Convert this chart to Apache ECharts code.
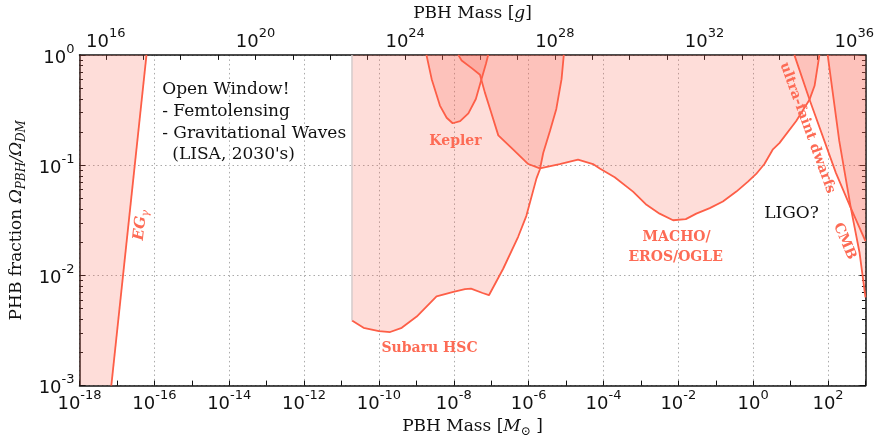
<!DOCTYPE html>
<html>
<head>
<meta charset="utf-8">
<script src="https://cdn.jsdelivr.net/npm/echarts@6/dist/echarts.min.js"></script>
<style>
  html, body { margin: 0; padding: 0; background: #fff; }
  #chart { width: 877px; height: 443px; }
</style>
</head>
<body>
<div id="chart"></div>
<script>
// every number below is a log10: x = log10(M / Msun), y = log10(f)
var egLogM = [-17.15, -16.21];
var egLogF = [-3, 0];

var subaruLogM = [-10.72, -10.41, -10.0, -9.70, -9.39, -8.99, -8.46, -8.01, -7.70, -7.54, -7.23, -7.06,
                  -6.68, -6.28, -6.06, -5.79, -5.70, -5.61, -5.43, -5.26, -5.12, -5.06];
var subaruLogF = [-2.41, -2.476, -2.505, -2.514, -2.476, -2.374, -2.19, -2.15, -2.124, -2.12, -2.16, -2.18,
                  -1.94, -1.65, -1.46, -1.12, -1.04, -0.89, -0.69, -0.49, -0.22, 0];

var keplerLogM = [-8.73, -8.59, -8.37, -8.19, -8.03, -7.83, -7.61, -7.41, -7.26, -7.14, -7.08];
var keplerLogF = [0, -0.22, -0.46, -0.57, -0.62, -0.60, -0.53, -0.40, -0.22, -0.08, 0];

var machoLogM = [-7.88, -7.79, -7.52, -7.30, -7.17, -7.03, -6.81, -6.41, -6.01, -5.70, -5.17, -4.68, -4.28,
                 -4.10, -3.70, -3.21, -2.85, -2.50, -2.14, -1.80, -1.52, -1.16, -0.81, -0.45, -0.14, 0.08,
                 0.30, 0.52, 0.70, 1.15, 1.50, 1.64, 1.77];
var machoLogF = [0, -0.05, -0.12, -0.18, -0.34, -0.49, -0.73, -0.86, -0.99, -1.03, -0.99, -0.95, -0.99,
                 -1.03, -1.11, -1.24, -1.36, -1.44, -1.50, -1.49, -1.44, -1.39, -1.33, -1.24, -1.15, -1.08,
                 -0.99, -0.86, -0.80, -0.60, -0.41, -0.28, 0];

var ufdLogM = [1.10, 1.50, 2.21, 2.61, 3.0];
var ufdLogF = [0, -0.40, -1.07, -1.39, -1.69];

var cmbLogM = [1.99, 2.30, 2.61, 2.84, 3.0];
var cmbLogF = [0, -0.78, -1.39, -1.79, -2.2];

var gramTicks = [16, 17, 18, 19, 20, 21, 22, 23, 24, 25, 26, 27, 28, 29, 30, 31, 32, 33, 34, 35, 36];
var gramLabels = [16, 20, 24, 28, 32, 36];
var LOG_MSUN_G = 33.2986;

var LINE = '#fd5e47';
var FILL = 'rgba(250,100,80,0.22)';
var TXT = '#fd6b55';
var SERIF = 'DejaVu Serif';
var SANS = 'DejaVu Sans';

function pairs(xs, ys) {
    return xs.map(function(x, i) { return [x, ys[i]]; });
}

var minorY = [];
[-3, -2, -1].forEach(function(d) {
    for (var k = 2; k < 10; k++) minorY.push(d + Math.log10(k));
});

var powRich = {
    b: {fontFamily: SANS, fontSize: 18, color: '#111', lineHeight: 24, verticalAlign: 'bottom'},
    s: {fontFamily: SANS, fontSize: 13, color: '#111', lineHeight: 13, verticalAlign: 'top'}
};
function powLabel(v) {
    return '{b|10}{s|' + Math.round(v) + '}';
}

var nameRich = {
    n: {fontFamily: SERIF, fontSize: 17, color: '#111', lineHeight: 22},
    i: {fontFamily: SERIF, fontSize: 17, fontStyle: 'italic', color: '#111', lineHeight: 22},
    s: {fontFamily: SERIF, fontSize: 12, fontStyle: 'italic', color: '#111', lineHeight: 12, verticalAlign: 'bottom'}
};

var blackLine = {onZero: false, lineStyle: {color: '#111', width: 1.5}};
var noLine = {show: false, onZero: false};
var dotted = {show: true, lineStyle: {color: '#aaa', type: [1.5, 3], width: 1}};

function area(xs, ys) {
    return {
        type: 'line', data: pairs(xs, ys), symbol: 'none', silent: true,
        lineStyle: {color: LINE, width: 1.8},
        areaStyle: {color: FILL, origin: 'end', opacity: 1}
    };
}

var myChart = echarts.init(document.getElementById('chart'));

var option = {
    animation: false,
    backgroundColor: '#fff',
    grid: {left: 79, right: 11, top: 51, bottom: 48},
    xAxis: [{
        // M_sun decades, ticks every decade, labels every other one
        type: 'value', position: 'bottom', min: -18, max: 3, interval: 1,
        axisLine: blackLine,
        axisTick: {inside: true, length: 5, lineStyle: {color: '#111'}},
        axisLabel: {margin: 4, formatter: function(v) { return Math.abs(Math.round(v) % 2) === 1 ? '' : powLabel(v); }, rich: powRich},
        splitLine: {show: false},
        name: '{n|PBH Mass [}{i|M}{s|⊙}{n| ]}', nameLocation: 'middle', nameGap: 24,
        nameTextStyle: {rich: nameRich}
    }, {
        // grams
        type: 'value', position: 'top', min: -18 + LOG_MSUN_G, max: 3 + LOG_MSUN_G,
        axisLine: blackLine,
        axisTick: {inside: true, length: 5, customValues: gramTicks, lineStyle: {color: '#111'}},
        axisLabel: {margin: 4, customValues: gramLabels, formatter: powLabel, rich: powRich},
        splitLine: {show: false},
        name: '{n|PBH Mass [}{i|g}{n|]}', nameLocation: 'middle', nameGap: 27,
        nameTextStyle: {rich: nameRich}
    }, {
        // grid lines every two decades
        type: 'value', position: 'bottom', min: -18, max: 3, interval: 2,
        axisLine: noLine, axisTick: {show: false}, axisLabel: {show: false},
        splitLine: dotted
    }],
    yAxis: [{
        type: 'value', position: 'left', min: -3, max: 0, interval: 1,
        axisLine: {show: true, onZero: false, lineStyle: {color: '#111', width: 1.5}},
        axisTick: {show: true, inside: true, length: 6, lineStyle: {color: '#111'}},
        axisLabel: {margin: 5, formatter: powLabel, rich: powRich},
        splitLine: dotted,
        name: '{n|PHB fraction }{i|Ω}{s|PBH}{i|/Ω}{s|DM}', nameLocation: 'middle', nameGap: 52,
        nameTextStyle: {rich: nameRich}
    }, {
        type: 'value', position: 'left', min: -3, max: 0,
        axisLine: noLine,
        axisTick: {show: true, inside: true, length: 3.5, customValues: minorY, lineStyle: {color: '#111'}},
        axisLabel: {show: false}, splitLine: {show: false}
    }, {
        type: 'value', position: 'right', min: -3, max: 0, interval: 1,
        axisLine: {show: true, onZero: false, lineStyle: {color: '#111', width: 1.5}},
        axisTick: {show: true, inside: true, length: 6, lineStyle: {color: '#111'}},
        axisLabel: {show: false}, splitLine: {show: false}
    }, {
        type: 'value', position: 'right', min: -3, max: 0,
        axisLine: noLine,
        axisTick: {show: true, inside: true, length: 3.5, customValues: minorY, lineStyle: {color: '#111'}},
        axisLabel: {show: false}, splitLine: {show: false}
    }],
    series: [
        // EG gamma: fill everything left of the edge, then draw the edge itself
        {
            type: 'line', symbol: 'none', silent: true,
            data: [[-18, egLogF[0]]].concat(pairs(egLogM, egLogF)),
            lineStyle: {width: 0, opacity: 0},
            areaStyle: {color: FILL, origin: 'end', opacity: 1}
        },
        {type: 'line', symbol: 'none', silent: true, data: pairs(egLogM, egLogF), lineStyle: {color: LINE, width: 1.8}},
        area(subaruLogM, subaruLogF),
        {
            type: 'line', symbol: 'none', silent: true,
            data: [[subaruLogM[0], subaruLogF[0]], [subaruLogM[0], 0]],
            lineStyle: {color: '#d4cccc', width: 1.5}
        },
        area(keplerLogM, keplerLogF),
        area(machoLogM, machoLogF),
        area(ufdLogM, ufdLogF),
        area(cmbLogM, cmbLogF)
    ]
};

myChart.setOption(option);

// annotations, placed in data coordinates
var notes = [
    {x: -15.79, y: -0.314, text: 'Open Window!', align: 'left', color: '#111', font: '17px ' + SERIF},
    {x: -15.79, y: -0.514, text: '- Femtolensing', align: 'left', color: '#111', font: '17px ' + SERIF},
    {x: -15.79, y: -0.715, text: '- Gravitational Waves', align: 'left', color: '#111', font: '17px ' + SERIF},
    {x: -15.52, y: -0.907, text: "(LISA, 2030's)", align: 'left', color: '#111', font: '17px ' + SERIF},
    {x: -7.955, y: -0.785, text: 'Kepler', color: TXT, font: 'bold 14px ' + SERIF},
    {x: -8.648, y: -2.659, text: 'Subaru HSC', color: TXT, font: 'bold 14px ' + SERIF},
    {x: -2.045, y: -1.657, text: 'MACHO/', color: TXT, font: 'bold 14px ' + SERIF},
    {x: -2.072, y: -1.84, text: 'EROS/OGLE', color: TXT, font: 'bold 14px ' + SERIF},
    {x: 1.024, y: -1.439, text: 'LIGO?', color: '#111', font: '17px ' + SERIF},
    {x: 1.45, y: -0.663, text: 'ultra-faint dwarfs', color: TXT, font: 'bold 14px ' + SERIF, rot: -1.22},
    {x: 2.44, y: -1.69, text: 'CMB', color: TXT, font: 'bold 14px ' + SERIF, rot: -1.17}
];

var graphics = notes.map(function(n) {
    var p = myChart.convertToPixel({xAxisIndex: 0, yAxisIndex: 0}, [n.x, n.y]);
    return {
        type: 'text', x: p[0], y: p[1], rotation: n.rot || 0, z: 10, silent: true,
        style: {
            text: n.text, font: n.font, fill: n.color,
            align: n.align || 'center', verticalAlign: 'middle',
            textAlign: n.align || 'center', textVerticalAlign: 'middle'
        }
    };
});

var egPos = myChart.convertToPixel({xAxisIndex: 0, yAxisIndex: 0}, [-16.37, -1.543]);
graphics.push({
    type: 'text', x: egPos[0], y: egPos[1], rotation: 1.466, z: 10, silent: true,
    style: {
        text: '{a|EG}{b|γ}', align: 'center', verticalAlign: 'middle',
        textAlign: 'center', textVerticalAlign: 'middle',
        rich: {
            a: {fontFamily: SERIF, fontSize: 15, fontWeight: 'bold', fontStyle: 'italic', fill: TXT, color: TXT, lineHeight: 19},
            b: {fontFamily: SERIF, fontSize: 11, fontStyle: 'italic', fill: TXT, color: TXT, lineHeight: 11, verticalAlign: 'bottom'}
        }
    }
});

myChart.setOption({graphic: graphics});
</script>
</body>
</html>
